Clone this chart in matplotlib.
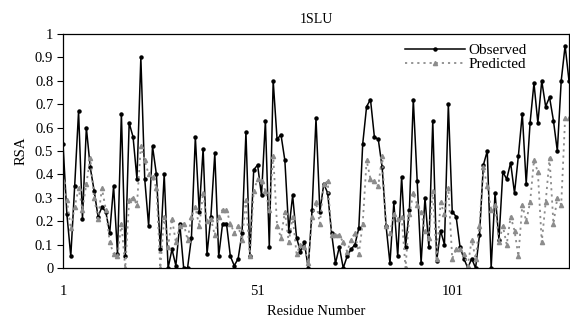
import numpy as np
from matplotlib import pyplot as plt

# residue-wise relative solvent accessibility
observed = [0.53, 0.23, 0.05, 0.35, 0.67, 0.21, 0.60, 0.43, 0.33, 0.22,
            0.26, 0.24, 0.15, 0.35, 0.06, 0.66, 0.05, 0.62, 0.56, 0.38,
            0.90, 0.38, 0.18, 0.52, 0.40, 0.08, 0.40, 0.00, 0.08, 0.01,
            0.19, 0.00, 0.00, 0.13, 0.56, 0.24, 0.51, 0.06, 0.22, 0.49,
            0.05, 0.19, 0.19, 0.05, 0.01, 0.04, 0.15, 0.58, 0.05, 0.42,
            0.44, 0.31, 0.63, 0.09, 0.80, 0.55, 0.57, 0.46, 0.16, 0.31,
            0.13, 0.07, 0.11, 0.00, 0.25, 0.64, 0.24, 0.36, 0.32, 0.15,
            0.02, 0.09, 0.00, 0.05, 0.08, 0.10, 0.17, 0.53, 0.69, 0.72,
            0.56, 0.55, 0.43, 0.18, 0.02, 0.28, 0.05, 0.39, 0.09, 0.25,
            0.72, 0.37, 0.02, 0.30, 0.09, 0.63, 0.03, 0.16, 0.10, 0.70,
            0.24, 0.22, 0.09, 0.04, 0.00, 0.04, 0.00, 0.14, 0.44, 0.50,
            0.00, 0.32, 0.12, 0.41, 0.38, 0.45, 0.32, 0.48, 0.66, 0.36,
            0.62, 0.79, 0.62, 0.80, 0.69, 0.73, 0.63, 0.50, 0.80, 0.95,
            0.80]

predicted = [0.37, 0.29, 0.17, 0.26, 0.34, 0.25, 0.36, 0.47, 0.30, 0.21,
             0.34, 0.25, 0.11, 0.06, 0.05, 0.19, 0.00, 0.29, 0.30, 0.27,
             0.52, 0.46, 0.40, 0.39, 0.34, 0.00, 0.22, 0.09, 0.21, 0.11,
             0.18, 0.19, 0.12, 0.22, 0.26, 0.18, 0.32, 0.20, 0.21, 0.14,
             0.22, 0.25, 0.25, 0.19, 0.15, 0.18, 0.12, 0.29, 0.05, 0.33,
             0.38, 0.37, 0.33, 0.25, 0.48, 0.18, 0.13, 0.24, 0.11, 0.22,
             0.06, 0.10, 0.09, 0.02, 0.22, 0.28, 0.19, 0.36, 0.37, 0.14,
             0.14, 0.14, 0.11, 0.07, 0.12, 0.15, 0.06, 0.19, 0.46, 0.38,
             0.37, 0.35, 0.48, 0.18, 0.15, 0.23, 0.21, 0.22, 0.00, 0.23,
             0.32, 0.27, 0.24, 0.16, 0.13, 0.33, 0.04, 0.28, 0.23, 0.34,
             0.04, 0.08, 0.08, 0.06, 0.01, 0.12, 0.04, 0.18, 0.43, 0.35,
             0.25, 0.27, 0.11, 0.18, 0.10, 0.22, 0.16, 0.05, 0.27, 0.20,
             0.28, 0.46, 0.41, 0.11, 0.28, 0.47, 0.19, 0.30, 0.27, 0.64,
             0.64]

residues = np.arange(1, len(observed) + 1)
x_ticks = [1, 51, 101]
y_ticks = [0, 0.1, 0.2, 0.3, 0.4, 0.5, 0.6, 0.7, 0.8, 0.9, 1]

plt.rcParams['font.family'] = ['Liberation Serif', 'DejaVu Serif']

fig = plt.figure(figsize=(5.7, 3.2), dpi=100)
ax = fig.add_axes([63 / 570, 52 / 320, 506 / 570, 234 / 320])

ax.plot(residues, observed, color='black', lw=1.1, marker='o', ms=2.2,
        label='Observed')
ax.plot(residues, predicted, color='#8c8c8c', lw=1.3, ls=(0, (1.2, 2.2)),
        marker='^', ms=3, mec='#8c8c8c', mfc='#8c8c8c', label='Predicted')

ax.set_xlim(1, len(observed))
ax.set_ylim(0, 1)
ax.set_xticks(x_ticks)
ax.set_yticks(y_ticks)
ax.set_yticklabels(['0' if v == 0 else ('1' if v == 1 else f'{v:g}') for v in y_ticks])
ax.tick_params(axis='y', direction='out', length=4, width=0.8, labelsize=10.5, pad=3)
ax.tick_params(axis='x', length=0, labelsize=10.5, pad=12)

for s in ax.spines.values():
    s.set_linewidth(0.9)

ax.set_title('1SLU', fontsize=10, pad=8)
ax.set_xlabel('Residue Number', fontsize=10.5, labelpad=5)
ax.set_ylabel('RSA', fontsize=10.5, labelpad=5)

ax.legend(loc='upper right', bbox_to_anchor=(0.935, 1.0), frameon=False,
          fontsize=11, handlelength=3.9, handletextpad=0.25, labelspacing=0.05,
          borderaxespad=0.2, markerscale=1.0)

fig.savefig('out.png', dpi=100)
